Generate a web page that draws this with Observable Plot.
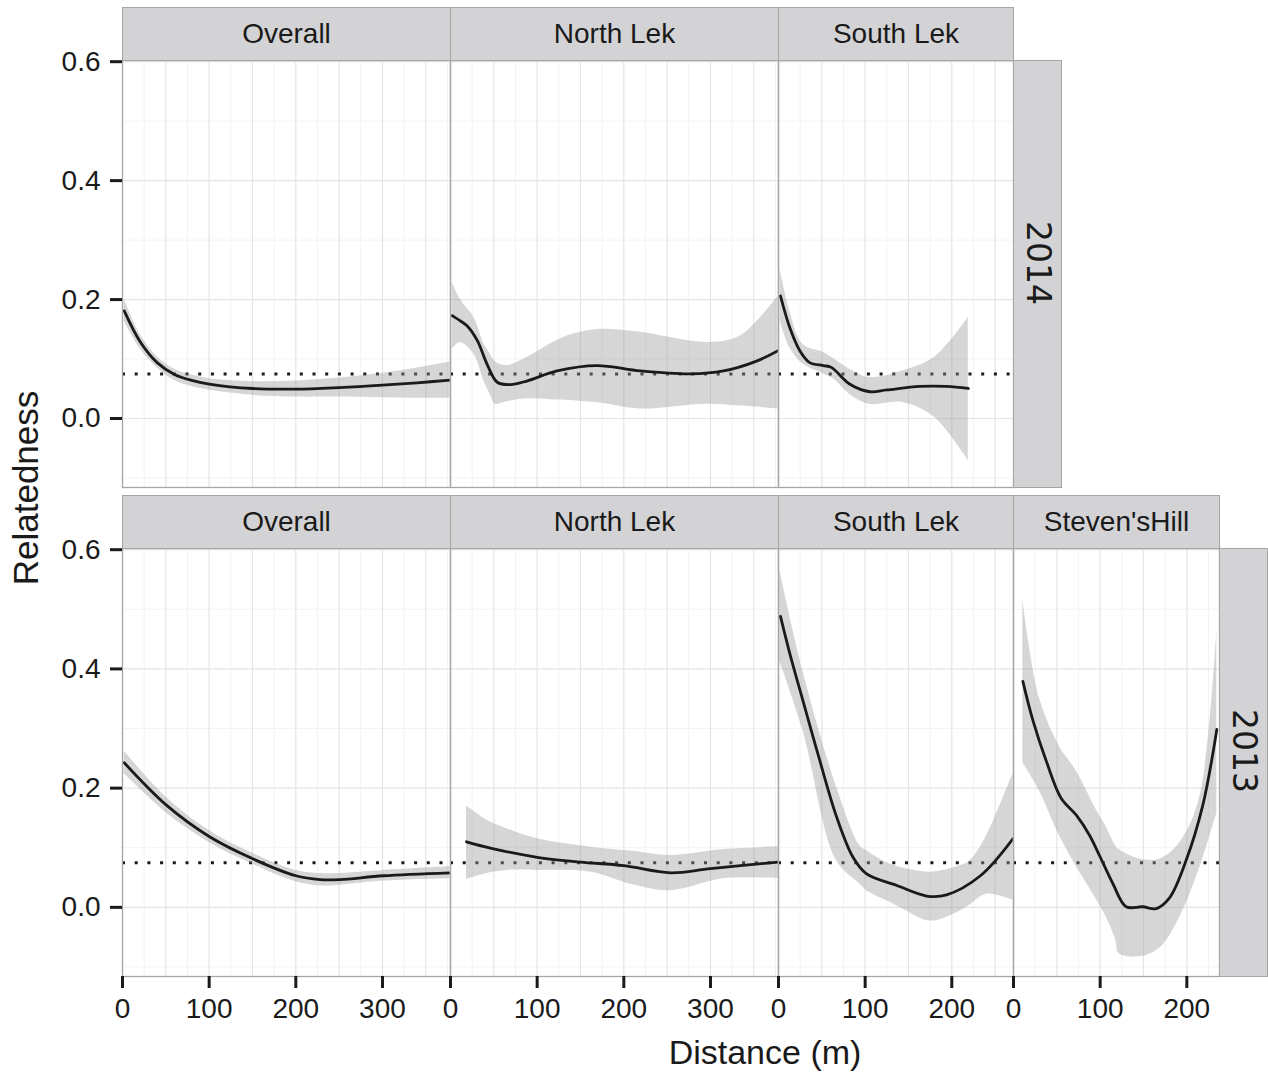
<!DOCTYPE html>
<html><head><meta charset="utf-8">
<script src="https://cdn.jsdelivr.net/npm/d3@7"></script>
<script src="https://cdn.jsdelivr.net/npm/@observablehq/plot@0.6"></script>
<style>
html,body{margin:0;padding:0;background:#fff;}
#chart{position:relative;width:1268px;height:1072px;overflow:hidden;font-family:"Liberation Sans",Arial,Helvetica,sans-serif;color:#1a1a1a;}
#chart svg{position:absolute;}
.strip{position:absolute;box-sizing:border-box;background:#d3d3d5;border:1px solid #a6a6a6;display:flex;align-items:center;justify-content:center;font-size:28px;color:#1a1a1a;white-space:nowrap;}
.ystrip{position:absolute;box-sizing:border-box;background:#d3d3d5;border:1px solid #a6a6a6;}
.ystrip span{position:absolute;left:50%;font-family:"DejaVu Sans",sans-serif;font-size:33px;color:#1a1a1a;transform:translate(-50%,-50%) rotate(90deg);white-space:nowrap;}
.title{position:absolute;font-size:34px;color:#1a1a1a;white-space:nowrap;z-index:5;}
</style></head><body><div id="chart"></div>
<script>
// ---------- facet labels & ticks ----------
const sites14 = ["Overall", "North Lek", "South Lek"];
const sites13 = ["Overall", "North Lek", "South Lek", "Steven'sHill"];
const years = ["2014", "2013"];
const xTicksLong = [0, 100, 200, 300];
const xTicksShort = [0, 100, 200];
const yTicks = [0, 0.2, 0.4, 0.6];
const refLine = 0.075;

// ---------- 2014 Overall ----------
const o14_d   = [2, 20, 40, 60, 80, 100, 150, 200, 250, 300, 340, 378];
const o14_fit = [0.181, 0.130, 0.094, 0.074, 0.064, 0.058, 0.0505, 0.0494, 0.052, 0.056, 0.060, 0.0646];
const o14_bd  = [2, 20, 40, 60, 80, 100, 150, 200, 250, 300, 340, 378];
const o14_lo  = [0.163, 0.118, 0.085, 0.064, 0.054, 0.048, 0.039, 0.036, 0.036, 0.035, 0.034, 0.034];
const o14_hi  = [0.201, 0.142, 0.104, 0.083, 0.073, 0.067, 0.062, 0.063, 0.068, 0.076, 0.085, 0.095];

// ---------- 2014 North Lek ----------
const n14_d   = [2, 11.5, 19, 31, 42, 54, 69, 88, 123, 169, 219, 277, 315, 354, 378];
const n14_fit = [0.173, 0.164, 0.156, 0.131, 0.092, 0.061, 0.057, 0.063, 0.080, 0.089, 0.080, 0.075, 0.080, 0.097, 0.114];
const n14_bd  = [2, 11.5, 27, 38.5, 46, 52, 65, 85, 123, 142, 173, 219, 296, 335, 378];
const n14_lo  = [0.117, 0.128, 0.108, 0.063, 0.040, 0.024, 0.028, 0.033, 0.031, 0.030, 0.026, 0.016, 0.024, 0.021, 0.016];
const n14_hi  = [0.229, 0.200, 0.170, 0.126, 0.108, 0.095, 0.089, 0.100, 0.131, 0.142, 0.150, 0.145, 0.128, 0.139, 0.206];

// ---------- 2014 South Lek ----------
const s14_d   = [2.3, 13, 24.6, 36, 51.6, 61, 82, 105.5, 125, 163, 194, 219];
const s14_fit = [0.206, 0.153, 0.114, 0.094, 0.089, 0.086, 0.058, 0.045, 0.048, 0.054, 0.054, 0.0505];
const s14_bd  = [2, 13, 28, 52, 64, 82, 105, 143, 180, 219];
const s14_lo  = [0.164, 0.119, 0.092, 0.075, 0.066, 0.041, 0.024, 0.027, 0.002, -0.071];
const s14_hi  = [0.251, 0.181, 0.125, 0.111, 0.100, 0.083, 0.069, 0.080, 0.103, 0.170];

// ---------- 2013 Overall ----------
const o13_d   = [2, 51, 101, 151, 200, 228, 251, 301, 378];
const o13_fit = [0.2425, 0.171, 0.118, 0.081, 0.053, 0.0466, 0.0466, 0.053, 0.058];
const o13_bd  = [2, 51, 101, 151, 200, 228, 251, 301, 378];
const o13_lo  = [0.224, 0.158, 0.108, 0.072, 0.043, 0.036, 0.037, 0.044, 0.048];
const o13_hi  = [0.262, 0.184, 0.128, 0.090, 0.062, 0.057, 0.057, 0.062, 0.068];

// ---------- 2013 North Lek ----------
const n13_d   = [18.5, 46, 100, 150, 200, 254, 300, 379];
const n13_fit = [0.110, 0.0995, 0.084, 0.076, 0.070, 0.058, 0.065, 0.076];
const n13_bd  = [18.5, 46, 65, 100, 162, 210, 254, 315, 379];
const n13_lo  = [0.047, 0.058, 0.062, 0.062, 0.059, 0.038, 0.028, 0.048, 0.048];
const n13_hi  = [0.170, 0.143, 0.132, 0.115, 0.101, 0.094, 0.087, 0.097, 0.1015];

// ---------- 2013 South Lek ----------
const s13_d   = [2.3, 13, 28.5, 47.7, 67, 86, 101.7, 136, 171, 194, 233, 270.5];
const s13_fit = [0.488, 0.426, 0.345, 0.246, 0.152, 0.084, 0.056, 0.037, 0.019, 0.021, 0.053, 0.115];
const s13_bd  = [1.5, 28.5, 67, 94, 101.7, 125, 144, 175, 206, 221, 240, 270.5];
const s13_lo  = [0.413, 0.295, 0.078, 0.039, 0.028, 0.011, -0.003, -0.023, -0.009, 0.004, 0.022, 0.012];
const s13_hi  = [0.566, 0.395, 0.202, 0.103, 0.095, 0.075, 0.066, 0.059, 0.068, 0.078, 0.120, 0.224];

// ---------- 2013 Steven'sHill ----------
const h13_d   = [10.8, 22.3, 37.7, 55, 72.3, 87.7, 99.2, 114.6, 130, 149, 164.6, 180, 199, 218.4, 234.6];
const h13_fit = [0.379, 0.314, 0.246, 0.183, 0.155, 0.121, 0.087, 0.040, 0.001, 0.001, -0.002, 0.016, 0.078, 0.171, 0.2985];
const h13_bd  = [10.8, 30, 53, 72, 95, 107, 118, 122, 145, 169, 192, 214.6, 234.6];
const h13_lo  = [0.2425, 0.195, 0.12, 0.07, 0.015, -0.016, -0.055, -0.078, -0.083, -0.068, -0.016, 0.065, 0.158];
const h13_hi  = [0.516, 0.351, 0.270, 0.230, 0.165, 0.135, 0.103, 0.097, 0.081, 0.081, 0.109, 0.183, 0.463];

// ---------- layout ----------
const chart = document.getElementById("chart");
const Y_DOMAIN = [-0.116, 0.602];
const rows = [
  {top: 60, h: 427, stripTop: 7, xAxis: false, year: years[0], yStripLeft: 1013, yStripW: 49},
  {top: 548, h: 428, stripTop: 495, xAxis: true, year: years[1], yStripLeft: 1219, yStripW: 49}
];
const cols = [
  {left: 122, w: 328, xmax: 378.5, ticks: xTicksLong},
  {left: 450, w: 328, xmax: 378.5, ticks: xTicksLong},
  {left: 778, w: 235, xmax: 271.2, ticks: xTicksShort},
  {left: 1013, w: 206, xmax: 237.7, ticks: xTicksShort}
];
const panels = [
  {row: 0, col: 0, name: sites14[0], d: o14_d, fit: o14_fit, bd: o14_bd, lo: o14_lo, hi: o14_hi},
  {row: 0, col: 1, name: sites14[1], d: n14_d, fit: n14_fit, bd: n14_bd, lo: n14_lo, hi: n14_hi},
  {row: 0, col: 2, name: sites14[2], d: s14_d, fit: s14_fit, bd: s14_bd, lo: s14_lo, hi: s14_hi},
  {row: 1, col: 0, name: sites13[0], d: o13_d, fit: o13_fit, bd: o13_bd, lo: o13_lo, hi: o13_hi},
  {row: 1, col: 1, name: sites13[1], d: n13_d, fit: n13_fit, bd: n13_bd, lo: n13_lo, hi: n13_hi},
  {row: 1, col: 2, name: sites13[2], d: s13_d, fit: s13_fit, bd: s13_bd, lo: s13_lo, hi: s13_hi},
  {row: 1, col: 3, name: sites13[3], d: h13_d, fit: h13_fit, bd: h13_bd, lo: h13_lo, hi: h13_hi}
];

const MT = 20;
const FONT = '"Liberation Sans", Arial, Helvetica, sans-serif';

for (const p of panels) {
  const r = rows[p.row], c = cols[p.col];
  const first = p.col === 0;
  const mL = first ? c.left : 0;
  const mB = r.xAxis ? 70 : 20;
  const line = p.d.map((d, i) => ({d, v: p.fit[i]}));
  const band = p.bd.map((d, i) => ({d, lo: p.lo[i], hi: p.hi[i]}));
  const grid = d3.range(0, c.xmax, 25);
  const gMajor = grid.filter(v => v % 50 === 0);
  const gMinor = grid.filter(v => v % 50 !== 0);
  const marks = [
    Plot.ruleX(gMinor, {stroke: "#f3f3f3", strokeWidth: 1}),
    Plot.ruleY([-0.1, 0.1, 0.3, 0.5], {stroke: "#f3f3f3", strokeWidth: 1}),
    Plot.ruleX(gMajor, {stroke: "#e4e4e4", strokeWidth: 1.2}),
    Plot.ruleY(yTicks, {stroke: "#e4e4e4", strokeWidth: 1.2}),
    Plot.ruleY([refLine], {stroke: "#1a1a1a", strokeWidth: 3, strokeDasharray: "3 9.7"}),
    Plot.areaY(band, {x: "d", y1: "lo", y2: "hi", fill: "#999999", fillOpacity: 0.4, curve: "catmull-rom", clip: true}),
    Plot.line(line, {x: "d", y: "v", stroke: "#1a1a1a", strokeWidth: 2.8, curve: "catmull-rom", clip: true}),
    Plot.frame({stroke: "#a6a6a6", strokeWidth: 1.3})
  ];
  if (first) {
    marks.push(Plot.axisY(yTicks, {anchor: "left", tickSize: 12, tickPadding: 10, strokeWidth: 3,
      tickFormat: d => d.toFixed(1), fontSize: 28, label: null}));
  }
  if (r.xAxis) {
    marks.push(Plot.axisX(c.ticks, {anchor: "bottom", tickSize: 12, tickPadding: 10, strokeWidth: 3,
      tickFormat: d => String(d), fontSize: 28, label: null}));
  }
  const svg = Plot.plot({
    width: mL + c.w, height: MT + r.h + mB,
    marginLeft: mL, marginRight: 0, marginTop: MT, marginBottom: mB,
    x: {domain: [0, c.xmax], axis: null},
    y: {domain: Y_DOMAIN, axis: null},
    style: {background: "transparent", overflow: "visible", fontFamily: FONT, fontSize: "28px", color: "#1a1a1a", maxWidth: "none"},
    marks
  });
  svg.style.left = (c.left - mL) + "px";
  svg.style.top = (r.top - MT) + "px";
  chart.appendChild(svg);

  // column strip
  const s = document.createElement("div");
  s.className = "strip";
  s.textContent = p.name;
  Object.assign(s.style, {left: c.left + "px", top: r.stripTop + "px", width: (c.w + 1) + "px", height: (r.top - r.stripTop + 1) + "px"});
  chart.appendChild(s);
}

// row (year) strips
for (const r of rows) {
  const s = document.createElement("div");
  s.className = "ystrip";
  Object.assign(s.style, {left: r.yStripLeft + "px", top: r.top + "px", width: r.yStripW + "px", height: (r.h + 1) + "px"});
  const t = document.createElement("span");
  t.textContent = r.year;
  t.style.top = (r.h / 2 - 12) + "px";
  s.appendChild(t);
  chart.appendChild(s);
}

// axis titles
const yt = document.createElement("div");
yt.className = "title";
yt.textContent = "Relatedness";
Object.assign(yt.style, {left: "26px", top: "488px", fontSize: "35px", transform: "translate(-50%,-50%) rotate(-90deg)"});
chart.appendChild(yt);

const xt = document.createElement("div");
xt.className = "title";
xt.textContent = "Distance (m)";
Object.assign(xt.style, {left: "765px", top: "1052px", fontSize: "34px", transform: "translate(-50%,-50%)"});
chart.appendChild(xt);
</script></body></html>
